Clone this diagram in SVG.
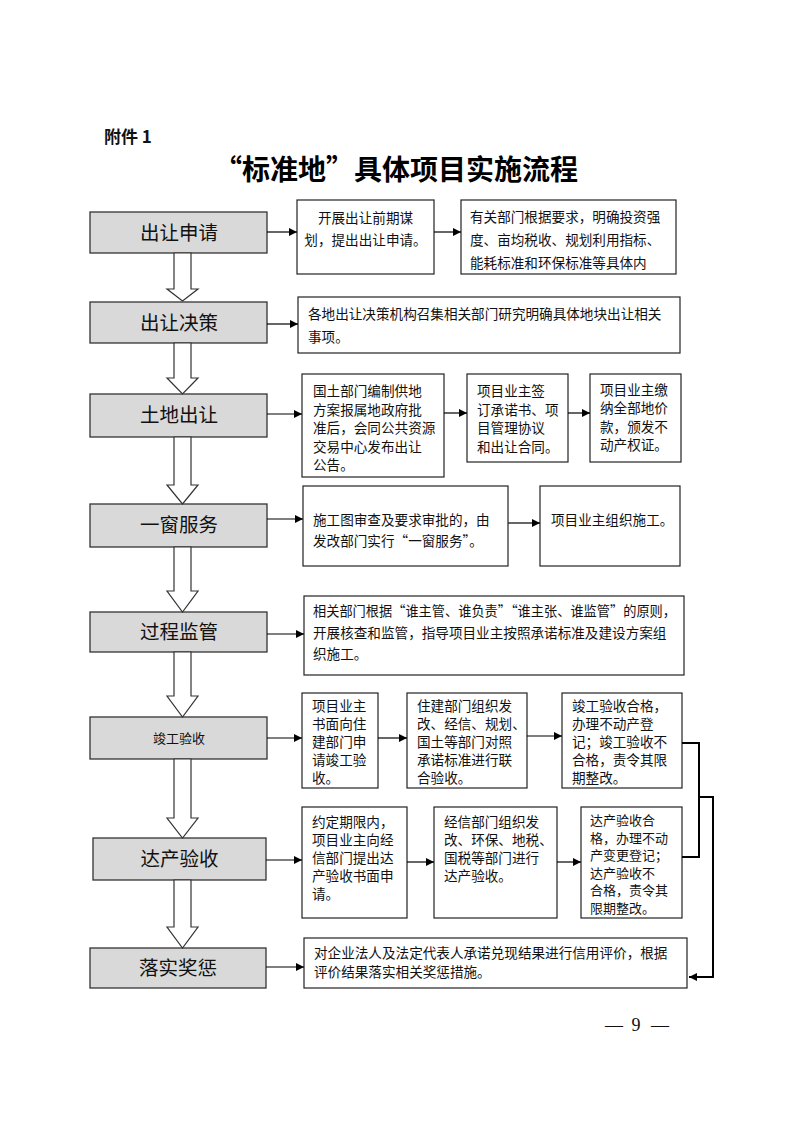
<svg xmlns="http://www.w3.org/2000/svg" width="793" height="1122" viewBox="0 0 793 1122">
<defs>
<marker id="ah" markerUnits="userSpaceOnUse" markerWidth="9" markerHeight="8" refX="8" refY="4" orient="auto">
<path d="M0,0 L8,4 L0,8 Z" fill="#000"/>
</marker>
<style>
.g{fill:#d9d9d9;stroke:#333;stroke-width:1.3}
.b{fill:#fff;stroke:#222;stroke-width:1.2}
.lab{font-family:"Noto Sans CJK SC","Liberation Sans",sans-serif;font-size:19.5px;fill:#111;text-anchor:middle}
.t{font-family:"Noto Sans CJK SC","Liberation Sans",sans-serif;font-size:13.6px;fill:#111}
.s{font-size:13px}
.c{stroke:#000;stroke-width:1.2;fill:none}
.k{stroke:#000;stroke-width:2;fill:none}
.ba{fill:#fff;stroke:#333;stroke-width:1.2}
</style>
</defs>
<rect width="793" height="1122" fill="#fff"/>
<text x="104" y="143" font-family="'Noto Sans CJK SC','Liberation Sans',sans-serif" font-size="17" font-weight="bold" fill="#111">附件 1</text>
<text x="396" y="180" font-family="'Noto Sans CJK SC','Liberation Serif',serif" font-size="28" font-weight="bold" fill="#000" text-anchor="middle">“标准地”具体项目实施流程</text>

<g id="n1"><rect class="g" x="90" y="212" width="177" height="41"/><text class="lab" x="179" y="240">出让申请</text></g>
<g id="n1a"><rect class="b" x="297" y="200" width="137" height="74"/><text class="t" x="365.5" y="223" text-anchor="middle">开展出让前期谋</text><text class="t" x="365.5" y="245" text-anchor="middle">划，提出出让申请。</text></g>
<g id="n1b"><rect class="b" x="461" y="200" width="215" height="74"/><text class="t" x="470" y="222">有关部门根据要求，明确投资强</text><text class="t" x="470" y="245">度、亩均税收、规划利用指标、</text><text class="t" x="470" y="268">能耗标准和环保标准等具体内</text></g>

<g id="n2"><rect class="g" x="90" y="302" width="177" height="41"/><text class="lab" x="179" y="330">出让决策</text></g>
<g id="n2a"><rect class="b" x="298" y="297" width="382" height="56"/><text class="t" x="308" y="319">各地出让决策机构召集相关部门研究明确具体地块出让相关</text><text class="t" x="308" y="342">事项。</text></g>

<g id="n3"><rect class="g" x="90" y="394" width="177" height="43"/><text class="lab" x="179" y="422">土地出让</text></g>
<g id="n3a"><rect class="b" x="302" y="374" width="142" height="103"/><text class="t" x="313" y="396">国土部门编制供地</text><text class="t" x="313" y="415">方案报属地政府批</text><text class="t" x="313" y="433">准后，会同公共资源</text><text class="t" x="313" y="452">交易中心发布出让</text><text class="t" x="313" y="470">公告。</text></g>
<g id="n3b"><rect class="b" x="467" y="374" width="101" height="88"/><text class="t" x="477" y="396">项目业主签</text><text class="t" x="477" y="415">订承诺书、项</text><text class="t" x="477" y="433">目管理协议</text><text class="t" x="477" y="452">和出让合同。</text></g>
<g id="n3c"><rect class="b" x="590" y="374" width="91" height="88"/><text class="t" x="600" y="395">项目业主缴</text><text class="t" x="600" y="413">纳全部地价</text><text class="t" x="600" y="432">款，颁发不</text><text class="t" x="600" y="450">动产权证。</text></g>

<g id="n4"><rect class="g" x="90" y="504" width="177" height="43"/><text class="lab" x="179" y="532">一窗服务</text></g>
<g id="n4a"><rect class="b" x="303" y="486" width="205" height="80"/><text class="t" x="313" y="525">施工图审查及要求审批的，由</text><text class="t" x="313" y="546">发改部门实行“一窗服务”。</text></g>
<g id="n4b"><rect class="b" x="540" y="486" width="140" height="80"/><text class="t" x="551" y="525">项目业主组织施工。</text></g>

<g id="n5"><rect class="g" x="90" y="612" width="177" height="40"/><text class="lab" x="179" y="639">过程监管</text></g>
<g id="n5a"><rect class="b" x="304" y="596" width="380" height="79"/><text class="t" x="313" y="616" textLength="363" lengthAdjust="spacingAndGlyphs">相关部门根据“谁主管、谁负责”“谁主张、谁监管”的原则，</text><text class="t" x="313" y="638">开展核查和监管，指导项目业主按照承诺标准及建设方案组</text><text class="t" x="313" y="659">织施工。</text></g>

<g id="n6"><rect class="g" x="90" y="717" width="177" height="42"/><text class="lab" x="179" y="743" style="font-size:13px">竣工验收</text></g>
<g id="n6a"><rect class="b" x="302" y="693" width="76" height="95"/><text class="t" x="312" y="711">项目业主</text><text class="t" x="312" y="729">书面向住</text><text class="t" x="312" y="747">建部门申</text><text class="t" x="312" y="765">请竣工验</text><text class="t" x="312" y="783">收。</text></g>
<g id="n6b"><rect class="b" x="407" y="693" width="120" height="95"/><text class="t" x="417" y="711">住建部门组织发</text><text class="t" x="417" y="729">改、经信、规划、</text><text class="t" x="417" y="747">国土等部门对照</text><text class="t" x="417" y="765">承诺标准进行联</text><text class="t" x="417" y="783">合验收。</text></g>
<g id="n6c"><rect class="b" x="562" y="693" width="120" height="95"/><text class="t" x="572" y="711">竣工验收合格，</text><text class="t" x="572" y="729">办理不动产登</text><text class="t" x="572" y="747">记；竣工验收不</text><text class="t" x="572" y="765">合格，责令其限</text><text class="t" x="572" y="783">期整改。</text></g>

<g id="n7"><rect class="g" x="93" y="838" width="173" height="42"/><text class="lab" x="179.5" y="866">达产验收</text></g>
<g id="n7a"><rect class="b" x="302" y="807" width="105" height="111"/><text class="t" x="312" y="827">约定期限内，</text><text class="t" x="312" y="845">项目业主向经</text><text class="t" x="312" y="863">信部门提出达</text><text class="t" x="312" y="881">产验收书面申</text><text class="t" x="312" y="899">请。</text></g>
<g id="n7b"><rect class="b" x="434" y="807" width="123" height="111"/><text class="t" x="444" y="827">经信部门组织发</text><text class="t" x="444" y="845">改、环保、地税、</text><text class="t" x="444" y="863">国税等部门进行</text><text class="t" x="444" y="881">达产验收。</text></g>
<g id="n7c"><rect class="b" x="581" y="807" width="101" height="111"/><text class="t s" x="590" y="825">达产验收合</text><text class="t s" x="590" y="842.5">格，办理不动</text><text class="t s" x="590" y="860">产变更登记；</text><text class="t s" x="590" y="877.5">达产验收不</text><text class="t s" x="590" y="895">合格，责令其</text><text class="t s" x="590" y="912.5">限期整改。</text></g>

<g id="n8"><rect class="g" x="90" y="948" width="176" height="40"/><text class="lab" x="178" y="975">落实奖惩</text></g>
<g id="n8a"><rect class="b" x="304" y="938" width="383" height="50"/><text class="t" x="314" y="958">对企业法人及法定代表人承诺兑现结果进行信用评价，根据</text><text class="t" x="314" y="977">评价结果落实相关奖惩措施。</text></g>

<g id="connectors">
<path class="ba" d="M174,253 V289 H167 L182.5,301 L198,289 H191 V253 Z"/>
<path class="ba" d="M174,343 V378 H167 L182.5,394 L198,378 H191 V343 Z"/>
<path class="ba" d="M174,437 V485 H167 L182.5,504 L198,485 H191 V437 Z"/>
<path class="ba" d="M174,547 V591 H167 L182.5,612 L198,591 H191 V547 Z"/>
<path class="ba" d="M174,652 V696 H167 L182.5,717 L198,696 H191 V652 Z"/>
<path class="ba" d="M174,759 V818 H167 L182.5,838 L198,818 H191 V759 Z"/>
<path class="ba" d="M174,880 V927 H167 L182.5,948 L198,927 H191 V880 Z"/>

<line class="c" x1="267" y1="232" x2="297" y2="232" marker-end="url(#ah)"/>
<line class="c" x1="434" y1="232" x2="461" y2="232" marker-end="url(#ah)"/>
<line class="c" x1="267" y1="324" x2="298" y2="324" marker-end="url(#ah)"/>
<line class="c" x1="267" y1="414" x2="302" y2="414" marker-end="url(#ah)"/>
<line class="c" x1="444" y1="413" x2="467" y2="413" marker-end="url(#ah)"/>
<line class="c" x1="568" y1="413" x2="590" y2="413" marker-end="url(#ah)"/>
<line class="c" x1="267" y1="519" x2="303" y2="519" marker-end="url(#ah)"/>
<line class="c" x1="508" y1="523" x2="540" y2="523" marker-end="url(#ah)"/>
<line class="c" x1="267" y1="634" x2="304" y2="634" marker-end="url(#ah)"/>
<line class="c" x1="267" y1="738" x2="302" y2="738" marker-end="url(#ah)"/>
<line class="c" x1="378" y1="738" x2="407" y2="738" marker-end="url(#ah)"/>
<line class="c" x1="527" y1="736" x2="562" y2="736" marker-end="url(#ah)"/>
<line class="c" x1="266" y1="860" x2="302" y2="860" marker-end="url(#ah)"/>
<line class="c" x1="407" y1="862" x2="434" y2="862" marker-end="url(#ah)"/>
<line class="c" x1="557" y1="862" x2="581" y2="862" marker-end="url(#ah)"/>
<line class="c" x1="266" y1="967" x2="304" y2="967" marker-end="url(#ah)"/>

<path class="k" d="M682,743 H699 V857 H682"/>
<path class="k" d="M699,797 H713 V977 H689" marker-end="url(#ah)"/>
</g>

<g font-family="'Liberation Serif',serif" font-size="18" fill="#111" text-anchor="middle">
<text x="614" y="1031">—</text>
<text x="636" y="1031">9</text>
<text x="660" y="1031">—</text>
</g>
</svg>
